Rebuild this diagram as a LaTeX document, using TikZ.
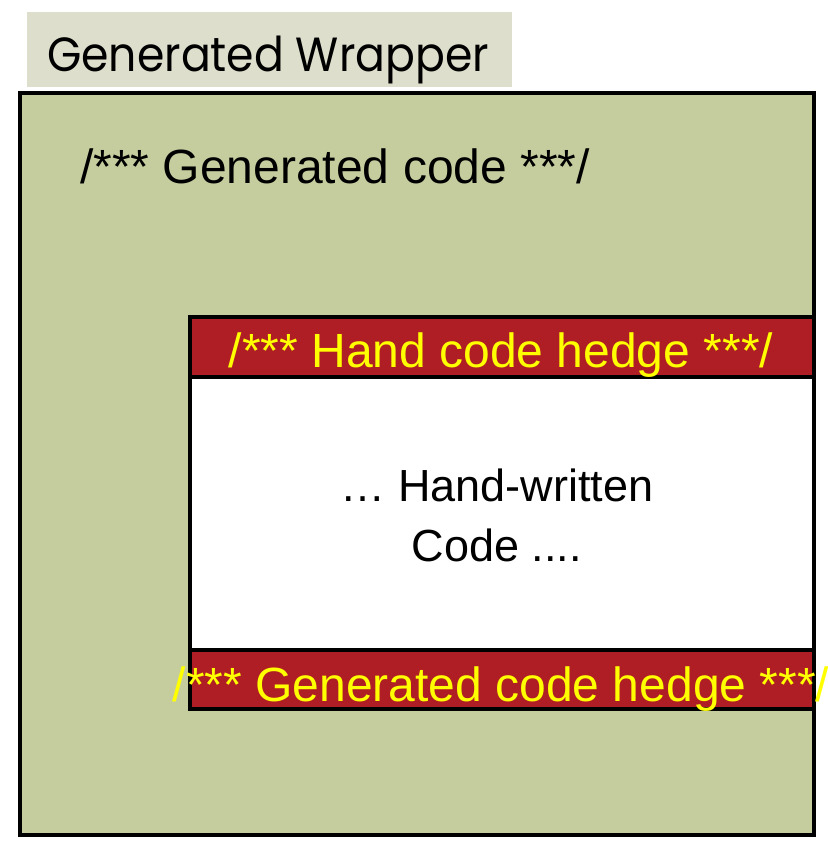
\documentclass[tikz,border=0pt]{standalone}
\usepackage{fontspec}
\setmainfont{Liberation Sans}
\newfontfamily\titlefont{Poppins}
\definecolor{wrapfill}{RGB}{197,204,158}
\definecolor{tabfill}{RGB}{222,222,204}
\definecolor{hedgered}{RGB}{175,30,36}
\definecolor{hedgetext}{RGB}{255,255,0}
\tikzset{
  panel/.style={draw=black, line width=3.5pt},
  codetext/.style={inner sep=0pt, font=\fontsize{48}{55}\selectfont},
  hedgelabel/.style={codetext, text=hedgetext, anchor=base},
}
\begin{document}
\begin{tikzpicture}[x=1pt, y=-1pt]
  \useasboundingbox (0,0) rectangle (827,843);

  % title tab
  \fill[tabfill] (27,12) rectangle (512,87);
  \node[inner sep=0pt, anchor=base west, xscale=0.92,
        font=\titlefont\fontsize{48}{54}\selectfont]
    (title) at (47,71) {Generated Wrapper};

  % generated wrapper
  \draw[panel, fill=wrapfill] (20,93) rectangle (814,835);
  \node[codetext, anchor=base west] (gencode) at (80,183) {/*** Generated code ***/};

  % hand-written region with its two hedges
  \draw[panel, fill=white] (190,377) rectangle (814,650);
  \draw[panel, fill=hedgered] (190,317) rectangle (814,377);
  \draw[panel, fill=hedgered] (190,650) rectangle (814,709);

  \node[hedgelabel] (handhedge) at (501,367) {/*** Hand code hedge ***/};
  \node[codetext, align=center, anchor=base, font=\fontsize{45}{60}\selectfont]
    (handcode) at (497,561) {… Hand-written\\Code ....};
  \node[hedgelabel] (genhedge) at (501,701) {/*** Generated code hedge ***/};
\end{tikzpicture}
\end{document}
